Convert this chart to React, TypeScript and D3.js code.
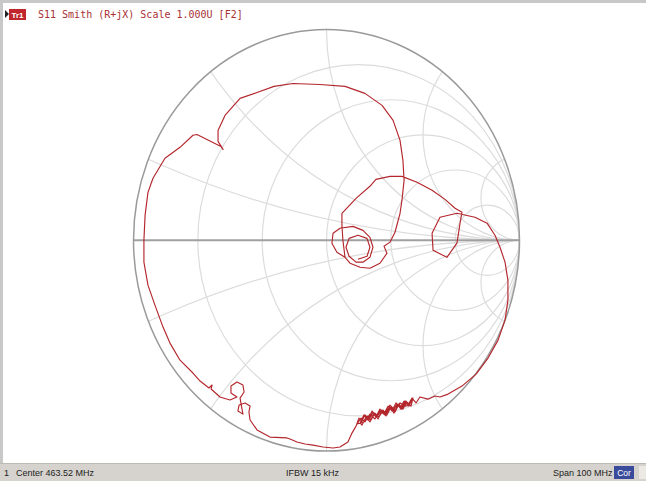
import React from "react";
import * as d3 from "d3";

const TRACE_RE = [
  0.163, 0.21, 0.225, 0.21, 0.163, 0.117, 0.101, 0.117, 0.153, 0.189, 0.225, 0.241, 0.225, 0.189, 0.137, 0.07, 0.034, 0.028, 0.054, 0.096,
  0.085, 0.08, 0.08, 0.153, 0.225, 0.256, 0.329, 0.391, 0.469, 0.547, 0.614, 0.666, 0.702,
  0.692, 0.676, 0.624, 0.552, 0.547, 0.588, 0.676,
  0.769, 0.832, 0.873, 0.899, 0.925, 0.94, 0.94, 0.925, 0.889, 0.837, 0.775, 0.702, 0.63, 0.588, 0.562, 0.526,
  0.484, 0.464, 0.443, 0.422, 0.402, 0.381, 0.36, 0.339, 0.319, 0.298, 0.277, 0.256, 0.236, 0.215, 0.194, 0.174,
  0.184, 0.205, 0.225, 0.246, 0.267, 0.288, 0.308, 0.329, 0.35, 0.37, 0.391, 0.412, 0.433,
  0.407, 0.381, 0.355, 0.329, 0.303, 0.277, 0.251, 0.225, 0.199, 0.179, 0.158,
  0.179, 0.199, 0.22, 0.241, 0.262, 0.282, 0.303, 0.324, 0.345, 0.365, 0.386, 0.407, 0.427, 0.448,
  0.438, 0.417, 0.396, 0.376, 0.355, 0.334, 0.313, 0.293, 0.272, 0.251, 0.231, 0.21, 0.189, 0.168, 0.153,
  0.132, 0.111, 0.07, 0.034, -0.018, -0.07, -0.111, -0.153, -0.189, -0.205, -0.293, -0.36, -0.396,
  -0.402, -0.396, -0.422, -0.453, -0.459, -0.433, -0.448,
  -0.427, -0.433, -0.464, -0.495, -0.495, -0.464,
  -0.5, -0.552, -0.598, -0.593, -0.609, -0.655, -0.692, -0.759, -0.811, -0.847, -0.889, -0.925, -0.946, -0.946, -0.94, -0.925, -0.899,
  -0.837, -0.759, -0.692, -0.671, -0.547, -0.536, -0.562, -0.562, -0.526, -0.448, -0.36, -0.272, -0.174, -0.034,
  0.096, 0.199, 0.288, 0.345, 0.381, 0.396, 0.402, 0.391, 0.381, 0.355, 0.329, 0.298,
  0.313, 0.277, 0.225, 0.174, 0.122, 0.096,
];
const TRACE_IM = [
  -0.09, -0.076, -0.033, 0.009, 0.024, 0.009, -0.033, -0.076, -0.104, -0.104, -0.081, -0.033, 0.014, 0.047, 0.066, 0.057, 0.033, -0.014, -0.057, -0.081,
  0.0, 0.071, 0.128, 0.199, 0.256, 0.289, 0.303, 0.303, 0.275, 0.237, 0.194, 0.152, 0.133,
  0.081, -0.014, -0.081, -0.047, 0.033, 0.109, 0.128,
  0.109, 0.081, 0.024, -0.033, -0.104, -0.19, -0.284, -0.379, -0.474, -0.559, -0.635, -0.692, -0.73, -0.744, -0.739, -0.754,
  -0.744, -0.772, -0.749, -0.782, -0.763, -0.796, -0.772, -0.81, -0.787, -0.825, -0.801, -0.839, -0.81, -0.853, -0.829, -0.867,
  -0.877, -0.839, -0.862, -0.82, -0.848, -0.806, -0.834, -0.791, -0.82, -0.777, -0.801, -0.763, -0.782,
  -0.787, -0.772, -0.806, -0.782, -0.829, -0.81, -0.848, -0.825, -0.862, -0.844, -0.872,
  -0.867, -0.829, -0.853, -0.815, -0.839, -0.806, -0.825, -0.791, -0.81, -0.777, -0.801, -0.763, -0.787, -0.749,
  -0.787, -0.768, -0.801, -0.777, -0.815, -0.791, -0.829, -0.806, -0.839, -0.82, -0.853, -0.834, -0.867, -0.844, -0.882,
  -0.915, -0.957, -0.981, -0.986, -0.981, -0.972, -0.967, -0.957, -0.943, -0.938, -0.934, -0.9, -0.853,
  -0.815, -0.787, -0.772, -0.782, -0.81, -0.825, -0.749,
  -0.72, -0.687, -0.673, -0.692, -0.725, -0.744,
  -0.758, -0.744, -0.706, -0.687, -0.701, -0.668, -0.63, -0.569, -0.488, -0.412, -0.308, -0.213, -0.104, 0.0, 0.118, 0.227, 0.294,
  0.389, 0.441, 0.498, 0.502, 0.445, 0.431, 0.469, 0.521, 0.592, 0.673, 0.701, 0.73, 0.744, 0.739,
  0.73, 0.697, 0.64, 0.569, 0.474, 0.379, 0.284, 0.19, 0.128, 0.038, -0.009, -0.028,
  -0.062, -0.109, -0.133, -0.128, -0.109, -0.081,
];

const RESISTANCES = [0.2, 0.5, 1, 2, 5];
const REACTANCES = [0.2, 0.5, 1, 2, 5];

const HEADER_TAG = "Tr1";
const HEADER_TEXT = "S11 Smith (R+jX) Scale 1.000U [F2]";
const STATUS_CH = "1";
const STATUS_LEFT = "Center 463.52 MHz";
const STATUS_MID = "IFBW 15 kHz";
const STATUS_RIGHT = "Span 100 MHz";
const STATUS_COR = "Cor";

const W = 646;
const H = 481;

export default function App() {
  const x = d3.scaleLinear().domain([-1, 1]).range([133.5, 519.5]);
  const y = d3.scaleLinear().domain([-1, 1]).range([451, 29.5]);
  const kx = (x(1) - x(-1)) / 2;
  const ky = (y(-1) - y(1)) / 2;

  const pts: [number, number][] = TRACE_RE.map((re, i) => [re, TRACE_IM[i]]);
  const line = d3
    .line<[number, number]>()
    .x((d) => x(d[0]))
    .y((d) => y(d[1]));

  const gridColor = "#dcdcdc";

  return (
    <svg
      width={W}
      height={H}
      style={{ position: "fixed", left: 0, top: 0, background: "#fff" }}
      fontFamily="'Liberation Sans', Arial, sans-serif"
    >
      <defs>
        <clipPath id="smith-clip">
          <ellipse cx={x(0)} cy={y(0)} rx={kx} ry={ky} />
        </clipPath>
      </defs>

      {/* window frame */}
      <rect x={0} y={0} width={W} height={3} fill="#c8c8c8" />
      <rect x={0} y={0} width={3} height={463} fill="#c8c8c8" />

      {/* header */}
      <path d="M5,10 L9,14 L5,18 Z" fill="#222" />
      <rect x={9} y={9} width={17} height={11} fill="#c0272d" />
      <text x={17.5} y={17.5} fontSize={8} fill="#fff" textAnchor="middle" fontWeight="bold">
        {HEADER_TAG}
      </text>
      <text x={38} y={18} fontSize={10} fill="#a83034" fontFamily="'DejaVu Sans Mono', monospace">
        {HEADER_TEXT}
      </text>

      {/* smith grid */}
      <g clipPath="url(#smith-clip)" fill="none" stroke={gridColor} strokeWidth={1.2}>
        {RESISTANCES.map((r) => (
          <ellipse
            key={`r${r}`}
            cx={x(r / (1 + r))}
            cy={y(0)}
            rx={kx / (1 + r)}
            ry={ky / (1 + r)}
          />
        ))}
        {REACTANCES.flatMap((xv) => [1, -1].map((s) => (
          <ellipse
            key={`x${xv}${s}`}
            cx={x(1)}
            cy={y(s / xv)}
            rx={kx / xv}
            ry={ky / xv}
          />
        )))}
      </g>
      <line x1={x(-1)} x2={x(1)} y1={y(0)} y2={y(0)} stroke="#a0a0a0" strokeWidth={2} />
      <ellipse cx={x(0)} cy={y(0)} rx={kx} ry={ky} fill="none" stroke="#9a9a9a" strokeWidth={1.5} />

      {/* measured trace */}
      <path d={line(pts) || ""} fill="none" stroke="#b3262c" strokeWidth={1.15} strokeLinejoin="round" />

      {/* status bar */}
      <rect x={0} y={463} width={W} height={18} fill="#d6d3ce" />
      <line x1={0} x2={W} y1={463.5} y2={463.5} stroke="#bdbab5" />
      <text x={4} y={476} fontSize={9} fill="#222">{STATUS_CH}</text>
      <text x={16} y={476} fontSize={9} fill="#222">{STATUS_LEFT}</text>
      <text x={286} y={476} fontSize={9} fill="#222">{STATUS_MID}</text>
      <text x={553} y={476} fontSize={9} fill="#222">{STATUS_RIGHT}</text>
      <rect x={614} y={466} width={20} height={13} fill="#3a4b9c" />
      <text x={624} y={476} fontSize={8.5} fill="#fff" textAnchor="middle">{STATUS_COR}</text>
      <rect x={639} y={466} width={7} height={13} fill="#ece9e4" />
    </svg>
  );
}
